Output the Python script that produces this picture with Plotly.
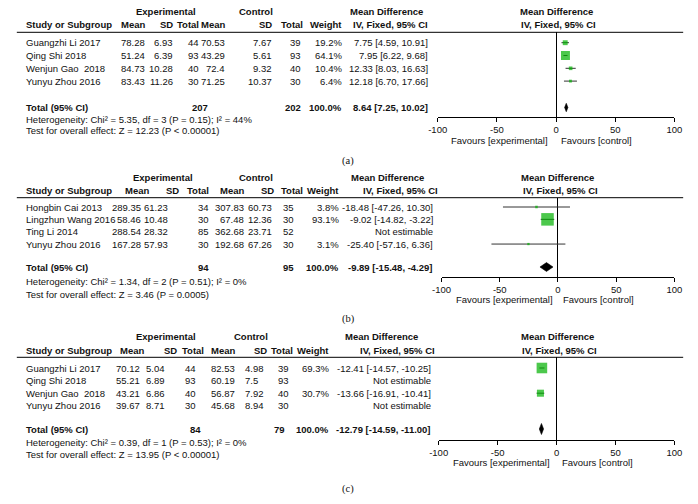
import plotly.graph_objects as go

W, H = 698, 504

# ---------------- data: panel (a) ----------------
a_study = ["Guangzhi Li 2017", "Qing Shi 2018", "Wenjun Gao  2018", "Yunyu Zhou 2016"]
a_exp_mean = [78.28, 51.24, 84.73, 83.43]
a_exp_sd = [6.93, 6.39, 10.28, 11.26]
a_exp_n = [44, 93, 40, 30]
a_ctl_mean = [70.53, 43.29, 72.4, 71.25]
a_ctl_sd = [7.67, 5.61, 9.32, 10.37]
a_ctl_n = [39, 93, 40, 30]
a_weight = [19.2, 64.1, 10.4, 6.4]
a_md = [7.75, 7.95, 12.33, 12.18]
a_lo = [4.59, 6.22, 8.03, 6.70]
a_hi = [10.91, 9.68, 16.63, 17.66]
a_total = [207, 202, 100.0, 8.64, 7.25, 10.02]
a_het = "Heterogeneity: Chi² = 5.35, df = 3 (P = 0.15); I² = 44%"
a_test = "Test for overall effect: Z = 12.23 (P < 0.00001)"

# ---------------- data: panel (b) ----------------
b_study = ["Hongbin Cai 2013", "Lingzhun Wang 2016", "Ting Li 2014", "Yunyu Zhou 2016"]
b_exp_mean = [289.35, 58.46, 288.54, 167.28]
b_exp_sd = [61.23, 10.48, 28.32, 57.93]
b_exp_n = [34, 30, 85, 30]
b_ctl_mean = [307.83, 67.48, 362.68, 192.68]
b_ctl_sd = [60.73, 12.36, 23.71, 67.26]
b_ctl_n = [35, 30, 52, 30]
b_weight = [3.8, 93.1, None, 3.1]
b_md = [-18.48, -9.02, None, -25.40]
b_lo = [-47.26, -14.82, None, -57.16]
b_hi = [10.30, -3.22, None, 6.36]
b_total = [94, 95, 100.0, -9.89, -15.48, -4.29]
b_het = "Heterogeneity: Chi² = 1.34, df = 2 (P = 0.51); I² = 0%"
b_test = "Test for overall effect: Z = 3.46 (P = 0.0005)"

# ---------------- data: panel (c) ----------------
c_study = ["Guangzhi Li 2017", "Qing Shi 2018", "Wenjun Gao  2018", "Yunyu Zhou 2016"]
c_exp_mean = [70.12, 55.21, 43.21, 39.67]
c_exp_sd = [5.04, 6.89, 6.86, 8.71]
c_exp_n = [44, 93, 40, 30]
c_ctl_mean = [82.53, 60.19, 56.87, 45.68]
c_ctl_sd = [4.98, 7.5, 7.92, 8.94]
c_ctl_n = [39, 93, 40, 30]
c_weight = [69.3, None, 30.7, None]
c_md = [-12.41, None, -13.66, None]
c_lo = [-14.57, None, -16.91, None]
c_hi = [-10.25, None, -10.41, None]
c_total = [84, 79, 100.0, -12.79, -14.59, -11.00]
c_het = "Heterogeneity: Chi² = 0.39, df = 1 (P = 0.53); I² = 0%"
c_test = "Test for overall effect: Z = 13.95 (P < 0.00001)"

tick_vals = [-100, -50, 0, 50, 100]
tick_text = ["-100", "-50", "0", "50", "100"]
fav_left = "Favours [experimental]"
fav_right = "Favours [control]"
panel_labels = ["(a)", "(b)", "(c)"]

# ---------------- layout geometry (pixels) ----------------
GEOM = [
    dict(h1=11, h2=24.3, line=32.3, row0=42.7, rowh=12.8, total=107.5, het=119.5, test=131,
         axis=117, fav=140, label=161, x0=439, x1=682,
         v=dict(em=140, esd=168, en=195, cm=222, csd=270, cn=300, w=342, md=430),
         hd=dict(em=140, esd=168, en=195, cm=222, csd=270, cn=302, w=342, md=430),
         left_sd=False, exp_c=160, ctl_c=253, md1_c=386, md2_c=561, md2b_c=563,
         tot_en=204, tot_cn=300, k=1.12, dh=4.2, fav_l=553, fav_r=565),
    dict(h1=177.5, h2=190.5, line=197.7, row0=207, rowh=12.35, total=267, het=281, test=294,
         axis=277, fav=299.5, label=319, x0=443, x1=682,
         v=dict(em=136, esd=163, en=205, cm=241, csd=270, cn=293, w=339, md=435),
         hd=dict(em=144, esd=175, en=205, cm=241, csd=272, cn=302, w=339, md=440),
         left_sd=False, exp_c=157, ctl_c=253, md1_c=387, md2_c=562, md2b_c=565,
         tot_en=205, tot_cn=293, k=1.3, dh=4.4, fav_l=558, fav_r=567),
    dict(h1=336, h2=350, line=357.3, row0=368, rowh=12.6, total=429, het=442, test=454,
         axis=440, fav=462.5, label=489, x0=440, x1=682,
         v=dict(em=134, esd=139, en=192, cm=232, csd=240, cn=287, w=328, md=433),
         hd=dict(em=139, esd=172, en=200, cm=232, csd=265, cn=292, w=328, md=437),
         left_sd=True, exp_c=160, ctl_c=247, md1_c=381, md2_c=562, md2b_c=564,
         tot_en=197, tot_cn=283, k=1.27, dh=5.5, fav_l=555, fav_r=566),
]

PANELS = [
    (a_study, a_exp_mean, a_exp_sd, a_exp_n, a_ctl_mean, a_ctl_sd, a_ctl_n, a_weight, a_md, a_lo, a_hi, a_total, a_het, a_test),
    (b_study, b_exp_mean, b_exp_sd, b_exp_n, b_ctl_mean, b_ctl_sd, b_ctl_n, b_weight, b_md, b_lo, b_hi, b_total, b_het, b_test),
    (c_study, c_exp_mean, c_exp_sd, c_exp_n, c_ctl_mean, c_ctl_sd, c_ctl_n, c_weight, c_md, c_lo, c_hi, c_total, c_het, c_test),
]

FONT = "Arial, 'Liberation Sans', sans-serif"
FS = 9.5
TXT = "#111111"
GREEN = "#00b000"
CI_COL = "#333333"

fig = go.Figure()
annotations = []
shapes = []


def px(x):
    return x / W


def py(y):
    return 1 - y / H


def txt(x, y, s, anchor="right", bold=False, size=FS, family=FONT):
    if bold:
        s = "<b>" + s + "</b>"
    annotations.append(dict(
        x=px(x), y=py(y), xref="paper", yref="paper", text=s.replace("  ", "\u00a0 "),
        showarrow=False, xanchor=anchor, yanchor="middle",
        font=dict(family=family, size=size, color=TXT), borderpad=0))


def fmt(v):
    return f"{v:g}"


for p, (g, data) in enumerate(zip(GEOM, PANELS)):
    study, em, esd, en, cm, csd, cn, wt, md, lo, hi, tot, het, test = data
    ax = "" if p == 0 else str(p + 1)
    v, hd = g["v"], g["hd"]

    # headers
    txt(g["exp_c"], g["h1"], "Experimental", "center", True)
    txt(g["ctl_c"], g["h1"], "Control", "center", True)
    txt(g["md1_c"], g["h1"], "Mean Difference", "center", True)
    txt(g["md2_c"], g["h1"], "Mean Difference", "center", True)
    txt(15, g["h2"], "Study or Subgroup", "left", True)
    for key, lab in [("em", "Mean"), ("esd", "SD"), ("en", "Total"), ("cm", "Mean"),
                     ("csd", "SD"), ("cn", "Total"), ("w", "Weight"), ("md", "IV, Fixed, 95% CI")]:
        txt(hd[key], g["h2"], lab, "right", True)
    txt(g["md2b_c"], g["h2"], "IV, Fixed, 95% CI", "center", True)
    shapes.append(dict(type="line", xref="paper", yref="paper", x0=px(7), x1=px(691),
                       y0=py(g["line"]), y1=py(g["line"]), line=dict(color="#000", width=1)))

    rows_y = []
    for i in range(len(study)):
        y = g["row0"] + i * g["rowh"]
        rows_y.append(y)
        txt(15, y, study[i], "left")
        sd_anchor = "left" if g["left_sd"] else "right"
        txt(v["em"], y, fmt(em[i]))
        txt(v["esd"], y, fmt(esd[i]), sd_anchor)
        txt(v["en"], y, str(en[i]))
        txt(v["cm"], y, fmt(cm[i]))
        txt(v["csd"], y, fmt(csd[i]), sd_anchor)
        txt(v["cn"], y, str(cn[i]))
        if wt[i] is not None:
            txt(v["w"], y, f"{wt[i]:.1f}%")
            txt(v["md"], y, f"{md[i]:.2f} [{lo[i]:.2f}, {hi[i]:.2f}]")
        else:
            txt(v["md"], y, "Not estimable")

    # totals
    t_en, t_cn, t_w, t_md, t_lo, t_hi = tot
    txt(15, g["total"], "Total (95% CI)", "left", True)
    txt(g["tot_en"], g["total"], str(t_en), "right", True)
    txt(g["tot_cn"], g["total"], str(t_cn), "right", True)
    txt(v["w"], g["total"], f"{t_w:.1f}%", "right", True)
    txt(v["md"], g["total"], f"{t_md:.2f} [{t_lo:.2f}, {t_hi:.2f}]", "right", True)
    txt(15, g["het"], het, "left")
    txt(15, g["test"], test, "left")
    txt(g["fav_l"], g["fav"], fav_left, "right")
    txt(g["fav_r"], g["fav"], fav_right, "left")
    txt(347, g["label"], panel_labels[p], "center", False, 10.5,
        "'Liberation Serif', 'Times New Roman', serif")

    # study estimates
    idx = [i for i in range(len(study)) if md[i] is not None]
    fig.add_trace(go.Scatter(
        x=[md[i] for i in idx], y=[rows_y[i] for i in idx], mode="markers",
        marker=dict(symbol="square", color=GREEN, size=[g["k"] * wt[i] ** 0.5 for i in idx],
                    line=dict(width=0)),
        error_x=dict(type="data", symmetric=False,
                     array=[hi[i] - md[i] for i in idx],
                     arrayminus=[md[i] - lo[i] for i in idx],
                     thickness=1, width=0, color=CI_COL),
        xaxis="x" + ax, yaxis="y" + ax, showlegend=False, hoverinfo="skip", cliponaxis=False))

    # pooled diamond
    ty, dh = g["total"], g["dh"]
    fig.add_trace(go.Scatter(
        x=[t_lo, t_md, t_hi, t_md, t_lo], y=[ty, ty - dh, ty, ty + dh, ty],
        mode="lines", fill="toself", fillcolor="#000", line=dict(color="#000", width=0.6),
        xaxis="x" + ax, yaxis="y" + ax, showlegend=False, hoverinfo="skip"))

    fig.layout["xaxis" + ax] = dict(
        domain=[px(g["x0"]), px(g["x1"])], range=[-100, 100], anchor="y" + ax,
        showline=True, linecolor="#000", linewidth=1, ticks="outside", ticklen=4,
        tickcolor="#000", tickvals=tick_vals, ticktext=tick_text,
        tickfont=dict(family=FONT, size=FS, color=TXT), showgrid=False,
        zeroline=True, zerolinecolor="#000", zerolinewidth=1, fixedrange=True)
    fig.layout["yaxis" + ax] = dict(
        domain=[py(g["axis"]), py(g["line"])], range=[g["axis"], g["line"]],
        anchor="x" + ax, visible=False, showgrid=False, zeroline=False, fixedrange=True)

fig.update_layout(
    width=W, height=H, margin=dict(l=0, r=0, t=0, b=0),
    paper_bgcolor="white", plot_bgcolor="rgba(0,0,0,0)",
    annotations=annotations, shapes=shapes, showlegend=False, hovermode=False,
    font=dict(family=FONT, size=FS, color=TXT))

fig.write_html("out.html", config={"displayModeBar": False},
               post_script="document.body.style.margin='0px';")
